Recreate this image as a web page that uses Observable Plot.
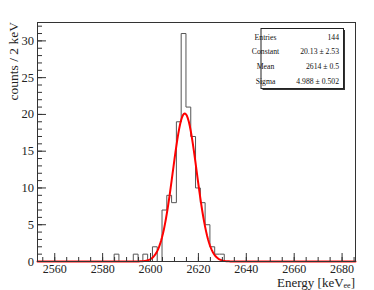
<!DOCTYPE html>
<html>
<head>
<meta charset="utf-8">
<script src="https://cdn.jsdelivr.net/npm/d3@7"></script>
<script src="https://cdn.jsdelivr.net/npm/@observablehq/plot@0.6"></script>
<style>
  html, body { margin: 0; padding: 0; background: #fff; }
  #chart svg { display: block; }
</style>
</head>
<body>
<div id="chart"></div>
<script>
// ---- data ----
const binLeft = [2584.8, 2592.8, 2596.8, 2600.8, 2604.8, 2606.8, 2608.8, 2610.8, 2612.8,
                 2614.8, 2616.8, 2618.8, 2620.8, 2622.8, 2624.8, 2626.8, 2628.8];
const binCounts = [1, 1, 1, 2, 7, 9, 8, 19, 31, 21, 17, 10, 8, 5, 2, 1, 1];
const histStart = 2552.8;
const binWidth = 2;
const nBins = 66;

// Gaussian fit parameters (from the stats box)
const fitConstant = 20.13;
const fitMean = 2614.3;
const fitSigma = 4.988;

const statsLabels = ["Entries", "Constant", "Mean", "Sigma"];
const statsValues = ["144", "20.13 \u00b1 2.53", "2614 \u00b1 0.5", "4.988 \u00b1 0.502"];

const xMajorTicks = [2560, 2580, 2600, 2620, 2640, 2660, 2680];
const xMinorTicks = d3.range(2555, 2686, 5);
const yMajorTicks = [0, 5, 10, 15, 20, 25, 30];
const yMinorTicks = d3.range(0, 33, 1);

const xTitle = "Energy [keV";
const xTitleSub = "ee";
const yTitle = "counts / 2 keV";

// ---- layout ----
const W = 374, H = 290;
const mL = 37, mR = 19, mT = 22, mB = 29;
const innerW = W - mL - mR, innerH = H - mT - mB;
const xDomain = [2552.8, 2685.6];
const yDomain = [0, 32.5];

// histogram outline as a step line
const hist = d3.range(nBins).map(i => ({x: histStart + i * binWidth, y: 0}));
binLeft.forEach((l, j) => {
  const i = Math.round((l - histStart) / binWidth);
  hist[i].y = binCounts[j];
});
hist.push({x: histStart + nBins * binWidth, y: 0});

// fit function evaluated on a grid of the x range
const fitPts = d3.range(xDomain[0], xDomain[1] + 0.001, 0.4).map(x => ({
  x, y: fitConstant * Math.exp(-0.5 * ((x - fitMean) / fitSigma) ** 2)
}));

const serif = "'Liberation Serif', 'DejaVu Serif', serif";
const tickColor = "#333";

const chart = Plot.plot({
  width: W, height: H,
  marginLeft: mL, marginRight: mR, marginTop: mT, marginBottom: mB,
  style: {fontFamily: serif, fontSize: "12.5px", background: "#fff", color: "#222"},
  x: {domain: xDomain},
  y: {domain: yDomain},
  marks: [
    Plot.line(hist, {x: "x", y: "y", curve: "step-after", stroke: "#555", strokeWidth: 1}),
    Plot.line(fitPts, {x: "x", y: "y", stroke: "#ff0000", strokeWidth: 2}),
    Plot.ruleX(xMinorTicks, {x: d => d, insetTop: innerH - 4, stroke: tickColor}),
    Plot.ruleX(xMajorTicks, {x: d => d, insetTop: innerH - 8, stroke: tickColor}),
    Plot.ruleY(yMinorTicks, {y: d => d, insetRight: innerW - 5, stroke: tickColor}),
    Plot.ruleY(yMajorTicks, {y: d => d, insetRight: innerW - 9, stroke: tickColor}),
    Plot.axisX({ticks: xMajorTicks, tickSize: 0, tickPadding: 2.5, label: null,
                tickFormat: d => String(d), fontSize: 12, fill: "#222"}),
    Plot.axisY({ticks: yMajorTicks, tickSize: 0, tickPadding: 3.5, label: null,
                tickFormat: d => String(d), fontSize: 12.5, fill: "#222"}),
    Plot.frame({stroke: "#333", strokeWidth: 1})
  ]
});

document.getElementById("chart").appendChild(chart);

const svg = d3.select(chart);

// y-axis title (ROOT style: rotated, aligned to the top of the frame)
svg.append("text")
  .attr("transform", `translate(17.5, ${mT}) rotate(-90)`)
  .attr("text-anchor", "end")
  .attr("font-family", serif)
  .attr("font-size", 13.5)
  .attr("fill", "#222")
  .text(yTitle);

// x-axis title with subscript, aligned to the right of the frame
const xt = svg.append("text")
  .attr("x", mL + innerW)
  .attr("y", 287)
  .attr("text-anchor", "end")
  .attr("font-family", serif)
  .attr("font-size", 13)
  .attr("fill", "#222");
xt.append("tspan").text(xTitle);
xt.append("tspan").attr("font-size", 8).attr("dy", 1.2).text(xTitleSub);
xt.append("tspan").attr("dy", -1.2).text("]");

// stats box
const bx = 261, by = 28.5, bw = 82.5, bh = 60;
const g = svg.append("g");
g.append("rect").attr("x", bx + 1.5).attr("y", by + 1.5).attr("width", bw).attr("height", bh)
  .attr("fill", "#333");
g.append("rect").attr("x", bx).attr("y", by).attr("width", bw).attr("height", bh)
  .attr("fill", "#fff").attr("stroke", "#222").attr("stroke-width", 1);
statsLabels.forEach((lab, i) => {
  const yy = by + 11 + i * 14.8;
  g.append("text").attr("x", bx + 4.5).attr("y", yy)
    .attr("font-family", serif).attr("font-size", 7.7).attr("fill", "#111").text(lab);
  g.append("text").attr("x", bx + bw - 4.5).attr("y", yy).attr("text-anchor", "end")
    .attr("font-family", serif).attr("font-size", 7.7).attr("fill", "#111").text(statsValues[i]);
});
</script>
</body>
</html>
